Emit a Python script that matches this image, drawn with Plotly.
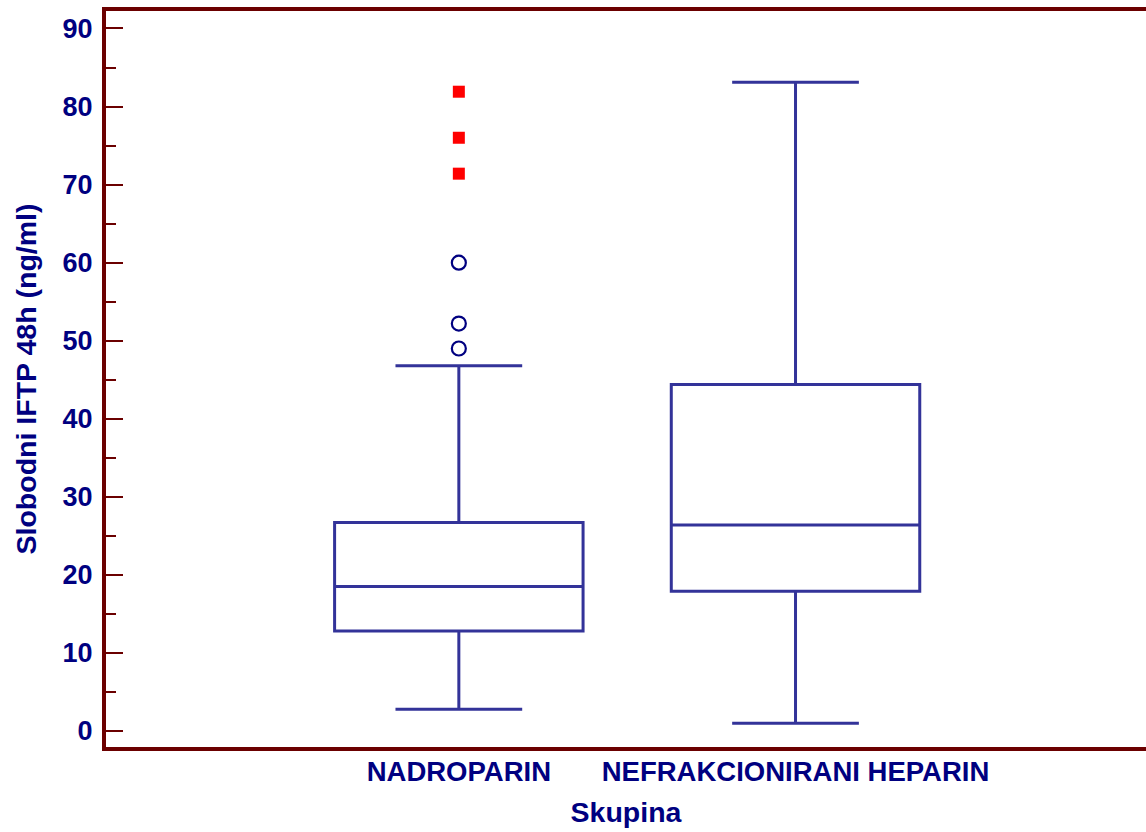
import plotly.graph_objects as go

groups = ["NADROPARIN", "NEFRAKCIONIRANI HEPARIN"]
q1 = [12.8, 17.9]
median = [18.5, 26.4]
q3 = [26.7, 44.4]
lower_whisker = [2.8, 1.0]
upper_whisker = [46.8, 83.1]
outside_values = [[49.0, 52.2, 60.0], []]
far_out_values = [[71.4, 76.0, 81.9], []]

y_title = "Slobodni IFTP 48h (ng/ml)"
x_title = "Skupina"

navy = "#000080"
box_col = "#333399"
axis_col = "#6B0000"
font_family = "Liberation Sans, Arial, sans-serif"

fig = go.Figure()
for i, g in enumerate(groups):
    fig.add_trace(go.Box(
        x=[i], q1=[q1[i]], median=[median[i]], q3=[q3[i]],
        lowerfence=[lower_whisker[i]], upperfence=[upper_whisker[i]],
        width=0.738, whiskerwidth=0.51,
        line=dict(color=box_col, width=3), fillcolor="rgba(255,255,255,0)",
        boxpoints=False, name=g, showlegend=False, hoverinfo="skip",
    ))
    if outside_values[i]:
        fig.add_trace(go.Scatter(
            x=[i] * len(outside_values[i]), y=outside_values[i], mode="markers",
            marker=dict(symbol="circle-open", size=14, color=navy, line=dict(width=2.2, color=navy)),
            showlegend=False, hoverinfo="y",
        ))
    if far_out_values[i]:
        fig.add_trace(go.Scatter(
            x=[i] * len(far_out_values[i]), y=far_out_values[i], mode="markers",
            marker=dict(symbol="square", size=12, color="#FF0000"),
            showlegend=False, hoverinfo="y",
        ))

fig.update_layout(
    width=1150, height=832,
    margin=dict(l=106, r=0, t=11, b=85),
    paper_bgcolor="white", plot_bgcolor="white",
    font=dict(family=font_family, color=navy, size=27),
    xaxis=dict(
        range=[-1.048, 2.041], tickmode="array", tickvals=[0, 1], ticktext=groups,
        showgrid=False, zeroline=False, showline=True, mirror=True,
        linecolor=axis_col, linewidth=4, ticks="",
        tickfont=dict(family=font_family, size=27.5, color=navy, weight="bold"),
        ticklabelstandoff=-3,
        title=dict(text="<b>" + x_title + "</b>", font=dict(size=28.5, color=navy), standoff=17),
    ),
    yaxis=dict(
        range=[-2.05, 92.24], tickmode="linear", tick0=0, dtick=10,
        showgrid=False, zeroline=False, showline=True, mirror=True,
        linecolor=axis_col, linewidth=4,
        ticks="inside", ticklen=17, tickwidth=2, tickcolor=axis_col,
        minor=dict(dtick=5, ticks="inside", ticklen=10, tickwidth=2, tickcolor=axis_col, showgrid=False),
        tickfont=dict(family=font_family, size=27, color=navy, weight="bold"),
        ticklabelstandoff=4,
        title=dict(text="<b>" + y_title + "</b>", font=dict(size=28.5, color=navy), standoff=19),
    ),
)

fig.write_html("out.html", config={"displayModeBar": False},
               post_script="document.body.style.margin='0';document.body.style.padding='0';"
                           "document.body.style.overflow='hidden';document.documentElement.style.overflow='hidden';")
